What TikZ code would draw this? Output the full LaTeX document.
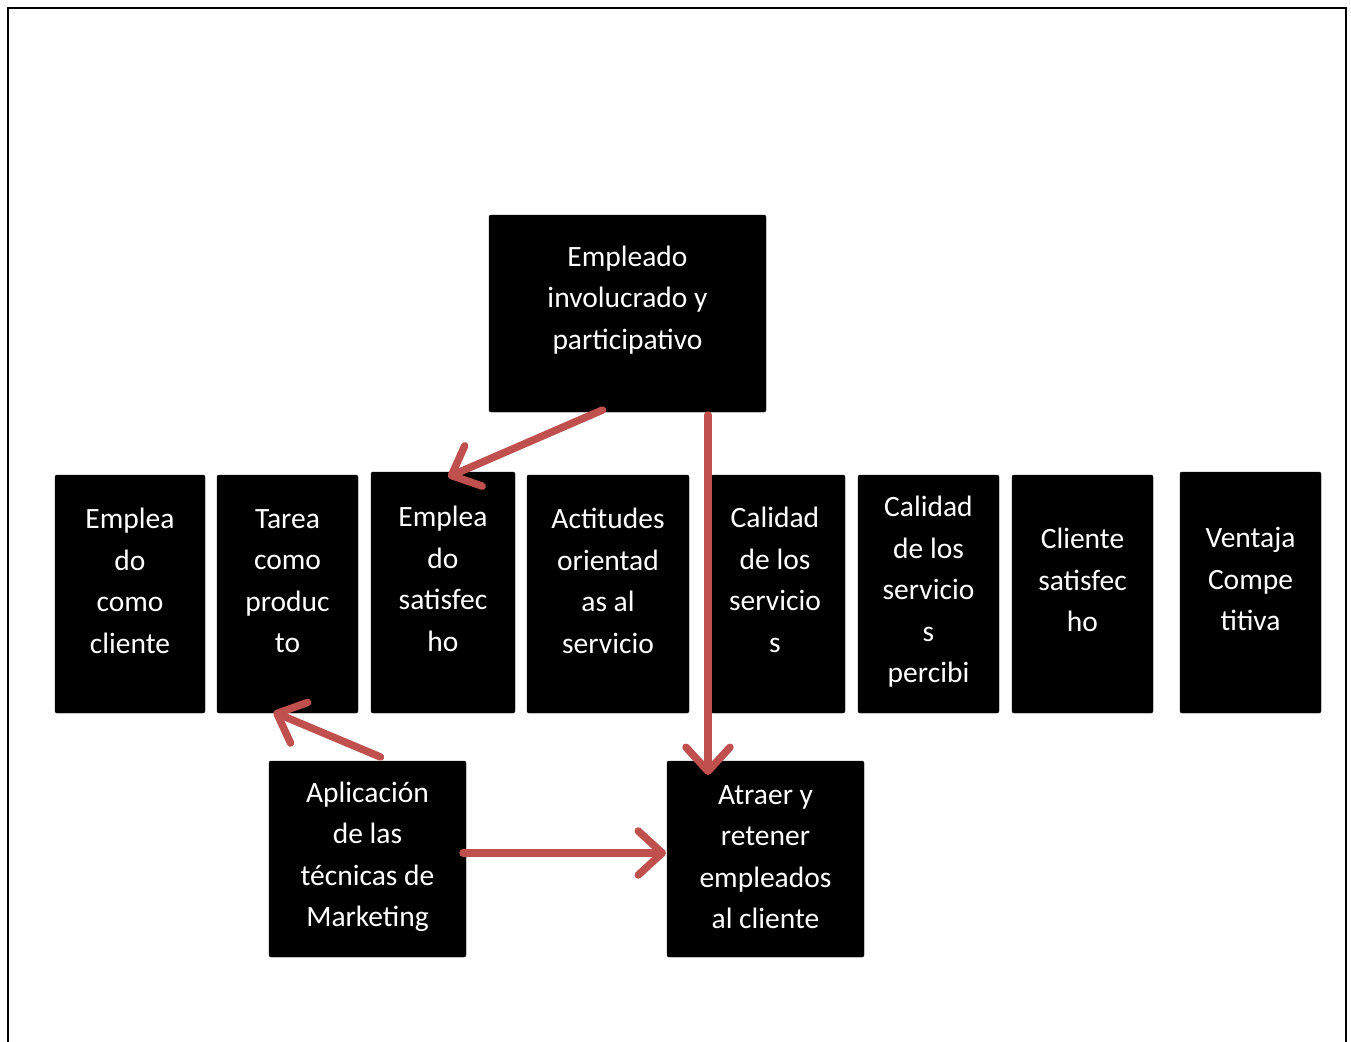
\documentclass[tikz,border=0pt]{standalone}
\usepackage{fontspec}
\setmainfont{Carlito}
\usetikzlibrary{arrows.meta,calc}
\definecolor{arrred}{RGB}{192,80,77}
\tikzset{
  blk/.style={fill=black, draw=black, rounded corners=2pt, inner sep=0pt, outer sep=0pt},
  txt/.style={text=white, align=center, inner sep=0pt, font=\fontsize{29.5}{41.5}\selectfont},
  redarrow/.style={draw=arrred, line width=7.5pt, line cap=round,
    -{Straight Barb[length=24pt, width=44pt, line cap=round, line join=round]}},
}
\newcommand{\boxat}[5]{%
  \node[blk, minimum width=#4-#2, minimum height=#5-#3, anchor=north west] (#1) at (#2,#3) {};}
\begin{document}
\begin{tikzpicture}[x=1pt, y=-1pt]
\useasboundingbox (0,0) rectangle (1351,1041);
\fill[white] (0,0) rectangle (1351,1041);
% outer frame
\coordinate (fbl) at (8,1045);
\coordinate (ftl) at (8,8);
\coordinate (ftr) at (1346,8);
\coordinate (fbr) at (1346,1045);
\draw[line width=2.5pt] (fbl) -- (ftl) -- (ftr) -- (fbr);
% boxes
\boxat{top}{489}{215}{766}{412}
\boxat{b1}{55}{475}{205}{713}
\boxat{b2}{217}{475}{358}{713}
\boxat{b3}{371}{472}{515}{713}
\boxat{b4}{527}{475}{689}{713}
\boxat{b5}{711}{475}{845}{713}
\boxat{b6}{858}{475}{999}{713}
\boxat{b7}{1012}{475}{1153}{713}
\boxat{b8}{1180}{472}{1321}{713}
\boxat{apl}{269}{761}{466}{957}
\boxat{atr}{667}{761}{864}{957}
% texts
\node[txt] (ttop) at (627.5,300) {Empleado\\involucrado y\\participativo};
\node[txt] (t1) at (130,581) {Emplea\\do\\como\\cliente};
\node[txt] (t2) at (287.5,581) {Tarea\\como\\produc\\to};
\node[txt] (t3) at (443,579) {Emplea\\do\\satisfec\\ho};
\node[txt] (t4) at (608,581) {Actitudes\\orientad\\as al\\servicio};
\node[txt] (t5) at (775,580) {Calidad\\de los\\servicio\\s};
\node[txt] (t6) at (928.5,592) {Calidad\\de los\\servicio\\s\\percibi};
\node[txt] (t7) at (1082.5,580) {Cliente\\satisfec\\ho};
\node[txt] (t8) at (1250.5,579) {Ventaja\\Compe\\titiva};
\node[txt] (tapl) at (367.5,857) {Aplicación\\de las\\técnicas de\\Marketing};
\node[txt] (tatr) at (765.5,857) {Atraer y\\retener\\empleados\\al cliente};
% arrows
\draw[redarrow] ($(top.south)+(-25,-2)$) -- ($(b3.north)+(5,5)$);
\draw[redarrow] ($(top.south)+(80.5,3)$) -- ($(atr.north)+(-57.5,14)$);
\draw[redarrow] ($(apl.north)+(13,-4)$) -- ($(b2.south)+(-14,-1)$);
\draw[redarrow] ($(apl.east)+(-3,-6)$) -- ($(atr.west)+(-1,-6)$);
\end{tikzpicture}
\end{document}
